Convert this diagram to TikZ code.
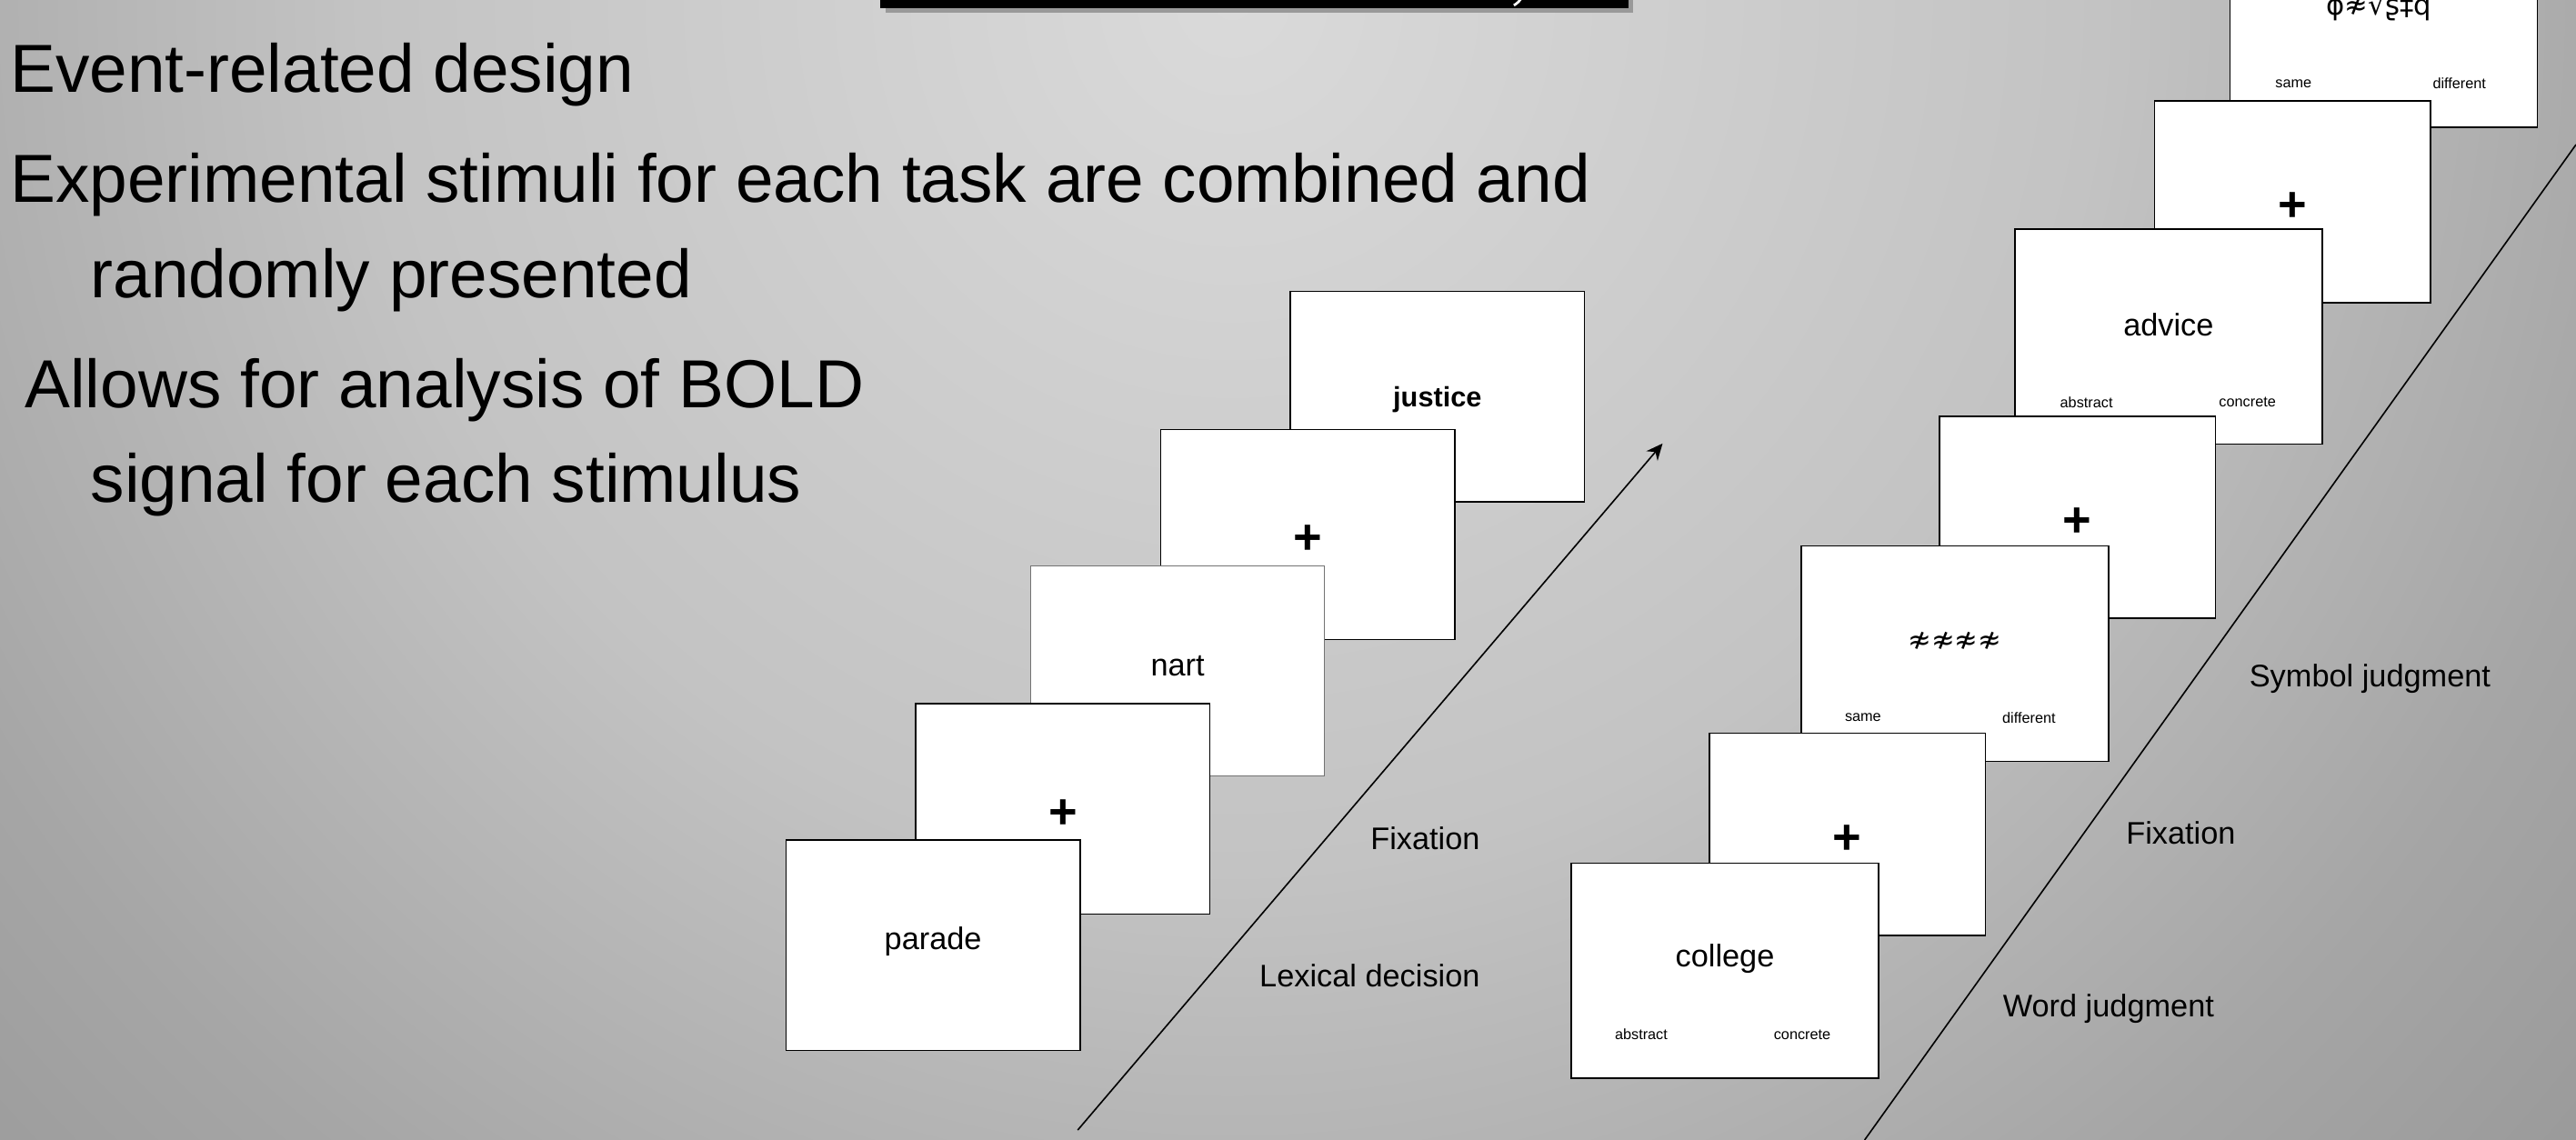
\documentclass[tikz,border=0pt]{standalone}
\usepackage{fontspec}
\setmainfont{Liberation Sans}
\newfontfamily\symfont{DejaVu Sans}
\usetikzlibrary{arrows.meta}

\definecolor{bgA}{gray}{0.855}
\definecolor{bgB}{gray}{0.765}
\definecolor{bgC}{gray}{0.650}
\definecolor{bgD}{gray}{0.580}
\definecolor{bgE}{gray}{0.535}
\definecolor{bgF}{gray}{0.500}
\pgfdeclareradialshading{slidebg}{\pgfpoint{0bp}{0bp}}{color(0bp)=(bgA); color(12bp)=(bgB); color(20bp)=(bgC); color(27bp)=(bgD); color(34bp)=(bgE); color(50bp)=(bgF)}

\begin{document}
\begin{tikzpicture}[x=1pt, y=-1pt, every node/.style={inner sep=0pt},
  card/.style={draw, fill=white, line width=0.9pt, anchor=north west, minimum width=179pt, minimum height=128pt},
  wcard/.style={card, minimum width=187pt, minimum height=131pt},
  fcard/.style={card, minimum width=168pt, minimum height=123pt},
  word/.style={font=\fontsize{19}{22}\selectfont},
  resp/.style={font=\fontsize{9}{11}\selectfont},
  fix/.style={font=\fontsize{30}{30}\selectfont\bfseries},
  task/.style={font=\fontsize{19}{22}\selectfont},
  bullet/.style={anchor=base west, font=\fontsize{41.4}{49}\selectfont}]

\useasboundingbox (0,0) rectangle (1568,694);
\begin{scope}
  \clip (0,0) rectangle (1568,694);
  \shade[shading=slidebg] (750,0) circle[radius=1100];
  % title bar, cut off at the top
  \fill[black!40] (539,-10) rectangle (994,7.5);
  \fill[black] (536,-10) rectangle (991,5);
  \draw[white, line width=1.5pt] (928,-8) arc[start angle=0, end angle=60, radius=13];

  \node[bullet] (b1) at (6,56) {Event-related design};
  \node[bullet] (b2) at (6,123) {Experimental stimuli for each task are combined and};
  \node[bullet] (b3) at (55,181) {randomly presented};
  \node[bullet] (b4) at (15,248) {Allows for analysis of BOLD};
  \node[bullet] (b5) at (55,306) {signal for each stimulus};

  % lexical decision run
  \node[card] (LD3) at (785,177) {};
  \node[word, font=\fontsize{17}{20}\selectfont\bfseries] (justice) at ([yshift=-2pt]LD3.center) {justice};
  \node[card] (LF2) at (706,261) {};
  \node[fix] (LP2) at ([yshift=-3pt]LF2.center) {+};
  \node[card, draw=black!55, line width=0.6pt] (LD2) at (627,344) {};
  \node[word] (nart) at ([yshift=3pt]LD2.center) {nart};
  \node[card] (LF1) at (557,428) {};
  \node[fix] (LP1) at ([yshift=-3pt]LF1.center) {+};
  \node[card] (LD1) at (478,511) {};
  \node[word] (parade) at ([yshift=2pt]LD1.center) {parade};

  \coordinate (LA) at (656,688);
  \coordinate (LB) at (1012,270);
  \draw[line width=0.9pt, -{Stealth[length=10pt, width=9pt]}] (LA) -- (LB);
  \node[task, anchor=base east] (LT1) at (901,517) {Fixation};
  \node[task, anchor=base east] (LT2) at (901,601) {Lexical decision};

  % word / symbol judgment run
  \node[wcard] (SJ2) at (1357,-54) {};
  \node[word, font=\symfont\fontsize{17}{20}\selectfont, anchor=base] (sym2) at (1448,9) {ϕ≉√ʂ‡q};
  \node[resp] (s2a) at ([shift={(39pt,27pt)}]SJ2.south west) {same};
  \node[resp] (s2b) at ([shift={(140pt,27pt)}]SJ2.south west) {different};
  \node[fcard] (RF3) at (1311,61) {};
  \node[fix] (RP3) at ([yshift=-3pt]RF3.center) {+};
  \node[wcard] (WJ2) at (1226,139) {};
  \node[word] (advice) at ([yshift=7.5pt]WJ2.center) {advice};
  \node[resp] (w2a) at ([shift={(44pt,26pt)}]WJ2.south west) {abstract};
  \node[resp] (w2b) at ([shift={(142pt,26pt)}]WJ2.south west) {concrete};
  \node[fcard] (RF2) at (1180,253) {};
  \node[fix] (RP2) at ([yshift=-3pt]RF2.center) {+};
  \node[wcard] (SJ1) at (1096,332) {};
  \node[word, font=\symfont\fontsize{17}{20}\selectfont] (sym1) at ([yshift=8pt]SJ1.center) {≉≉≉≉};
  \node[resp] (s1a) at ([shift={(38pt,27pt)}]SJ1.south west) {same};
  \node[resp] (s1b) at ([shift={(139pt,27pt)}]SJ1.south west) {different};
  \node[fcard] (RF1) at (1040,446) {};
  \node[fix] (RP1) at ([yshift=-3pt]RF1.center) {+};
  \node[wcard] (WJ1) at (956,525) {};
  \node[word] (college) at ([yshift=7.5pt]WJ1.center) {college};
  \node[resp] (w1a) at ([shift={(43pt,27pt)}]WJ1.south west) {abstract};
  \node[resp] (w1b) at ([shift={(141pt,27pt)}]WJ1.south west) {concrete};

  \coordinate (RA) at (1135,694);
  \coordinate (RB) at (1568,88);
  \draw[line width=0.9pt] (RA) -- (RB);
  \node[task, anchor=base west] (RT1) at (1369,418) {Symbol judgment};
  \node[task, anchor=base west] (RT2) at (1294,514) {Fixation};
  \node[task, anchor=base west] (RT3) at (1219,619) {Word judgment};
\end{scope}
\end{tikzpicture}
\end{document}
